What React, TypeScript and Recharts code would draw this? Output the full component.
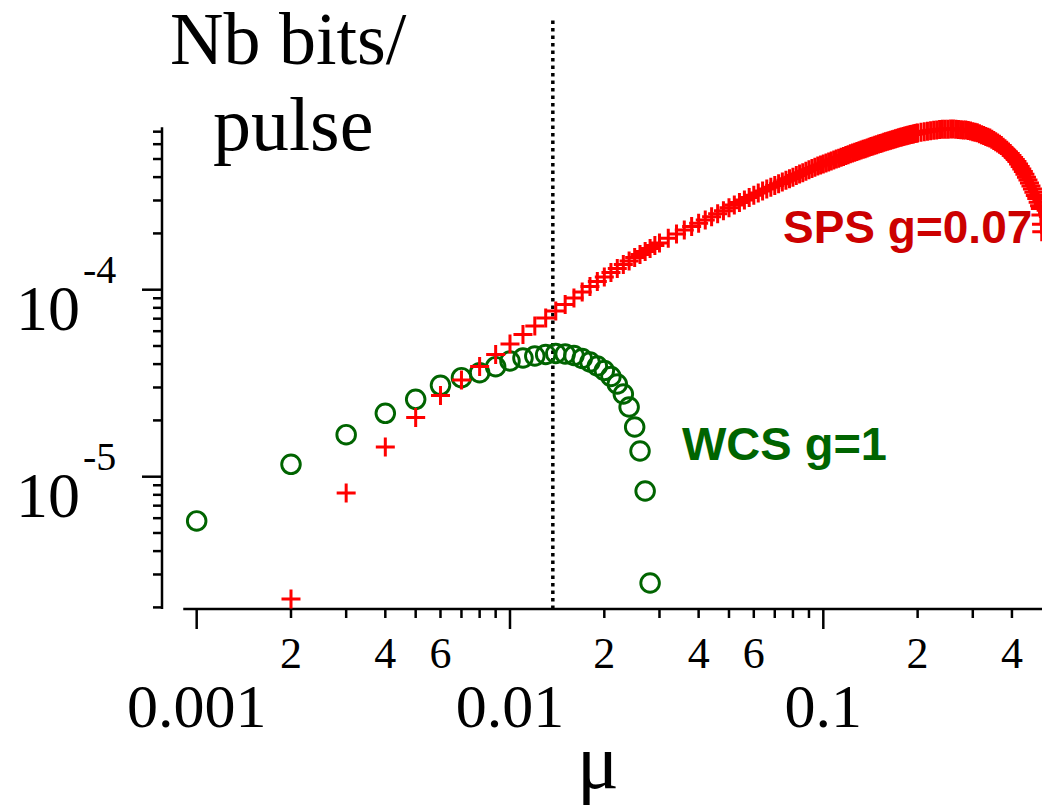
import React from 'react';
import { ScatterChart, Scatter, XAxis, YAxis, ReferenceLine } from 'recharts';

const SERIF = '"Liberation Serif", "DejaVu Serif", serif';
const SANS = '"Liberation Sans", Arial, sans-serif';

// WCS g=1 (green circles)
const wcsMu = [
  0.001, 0.002, 0.003, 0.004, 0.005, 0.006, 0.007, 0.008, 0.009, 0.01,
  0.011, 0.012, 0.013, 0.014, 0.015, 0.016, 0.017, 0.018, 0.019, 0.02,
  0.021, 0.022, 0.023, 0.024, 0.025, 0.026, 0.027, 0.028,
];
const wcsBits = [
  5.8e-6, 1.165e-5, 1.677e-5, 2.183e-5, 2.594e-5, 3.082e-5, 3.384e-5, 3.598e-5, 3.875e-5, 4.157e-5,
  4.312e-5, 4.42e-5, 4.502e-5, 4.558e-5, 4.53e-5, 4.447e-5, 4.286e-5, 4.106e-5, 3.908e-5, 3.697e-5,
  3.434e-5, 3.132e-5, 2.769e-5, 2.359e-5, 1.844e-5, 1.372e-5, 8.385e-6, 2.701e-6,
];

// SPS g=0.07 (red pluses)
const spsMu = [
  0.002, 0.003, 0.004, 0.005, 0.006, 0.007, 0.008, 0.009, 0.01,
  0.011, 0.012, 0.013, 0.014, 0.015, 0.016, 0.017, 0.018, 0.019, 0.02,
  0.021, 0.022, 0.023, 0.024, 0.025, 0.026, 0.027, 0.028, 0.029, 0.03,
  0.032, 0.034, 0.036, 0.038, 0.04, 0.042, 0.044, 0.046, 0.048, 0.05,
  0.052, 0.054, 0.056, 0.058, 0.06, 0.062, 0.064, 0.066, 0.068, 0.07,
  0.072, 0.074, 0.076, 0.078, 0.08, 0.082, 0.084, 0.086, 0.088, 0.09,
  0.092, 0.094, 0.096, 0.098, 0.1,
  0.102, 0.104, 0.106, 0.108, 0.11, 0.112, 0.114, 0.116, 0.118, 0.12,
  0.122, 0.124, 0.126, 0.128, 0.13, 0.132, 0.134, 0.136, 0.138, 0.14,
  0.142, 0.144, 0.146, 0.148, 0.15, 0.152, 0.154, 0.156, 0.158, 0.16,
  0.162, 0.164, 0.166, 0.168, 0.17, 0.172, 0.174, 0.176, 0.178, 0.18,
  0.182, 0.184, 0.186, 0.188, 0.19, 0.192, 0.194, 0.196, 0.198, 0.2,
  0.205, 0.21, 0.215, 0.22, 0.225, 0.23, 0.235, 0.24, 0.245, 0.25,
  0.255, 0.26, 0.265, 0.27, 0.275, 0.28, 0.285, 0.29, 0.295, 0.3,
  0.305, 0.31, 0.315, 0.32, 0.325, 0.33, 0.335, 0.34, 0.345, 0.35,
  0.355, 0.36, 0.365, 0.37, 0.375, 0.38, 0.385, 0.39, 0.395, 0.4,
  0.405, 0.41, 0.415, 0.42, 0.425, 0.43, 0.435, 0.44, 0.445, 0.45,
  0.455, 0.46, 0.465, 0.47, 0.475, 0.48, 0.485, 0.49,
  0.493, 0.495, 0.497, 0.498,
];
const spsBits = [
  2.218e-6, 8.18e-6, 1.441e-5, 2.073e-5, 2.718e-5, 3.289e-5, 3.885e-5, 4.503e-5, 5.124e-5,
  5.76e-5, 6.395e-5, 7.059e-5, 7.693e-5, 8.333e-5, 9.028e-5, 9.721e-5, 1.04e-4, 1.106e-4, 1.169e-4,
  1.236e-4, 1.298e-4, 1.364e-4, 1.424e-4, 1.487e-4, 1.543e-4, 1.601e-4, 1.661e-4, 1.724e-4, 1.778e-4,
  1.882e-4, 1.984e-4, 2.085e-4, 2.178e-4, 2.27e-4, 2.361e-4, 2.455e-4, 2.551e-4, 2.647e-4, 2.742e-4,
  2.836e-4, 2.928e-4, 3.018e-4, 3.108e-4, 3.197e-4, 3.286e-4, 3.372e-4, 3.452e-4, 3.532e-4, 3.611e-4,
  3.69e-4, 3.768e-4, 3.846e-4, 3.924e-4, 3.999e-4, 4.075e-4, 4.151e-4, 4.226e-4, 4.3e-4, 4.375e-4,
  4.448e-4, 4.521e-4, 4.588e-4, 4.645e-4, 4.703e-4,
  4.762e-4, 4.821e-4, 4.88e-4, 4.937e-4, 4.994e-4, 5.051e-4, 5.108e-4, 5.164e-4, 5.22e-4, 5.276e-4,
  5.328e-4, 5.379e-4, 5.43e-4, 5.481e-4, 5.531e-4, 5.58e-4, 5.631e-4, 5.68e-4, 5.729e-4, 5.778e-4,
  5.825e-4, 5.871e-4, 5.916e-4, 5.962e-4, 6.006e-4, 6.052e-4, 6.095e-4, 6.138e-4, 6.179e-4, 6.219e-4,
  6.259e-4, 6.298e-4, 6.338e-4, 6.377e-4, 6.416e-4, 6.455e-4, 6.492e-4, 6.529e-4, 6.561e-4, 6.595e-4,
  6.629e-4, 6.661e-4, 6.693e-4, 6.726e-4, 6.758e-4, 6.785e-4, 6.811e-4, 6.838e-4, 6.863e-4, 6.89e-4,
  6.954e-4, 7.0e-4, 7.046e-4, 7.091e-4, 7.131e-4, 7.155e-4, 7.18e-4, 7.205e-4, 7.211e-4, 7.219e-4,
  7.226e-4, 7.233e-4, 7.213e-4, 7.193e-4, 7.174e-4, 7.156e-4, 7.137e-4, 7.099e-4, 7.048e-4, 6.998e-4,
  6.948e-4, 6.9e-4, 6.826e-4, 6.75e-4, 6.678e-4, 6.606e-4, 6.536e-4, 6.469e-4, 6.369e-4, 6.271e-4,
  6.175e-4, 6.083e-4, 5.994e-4, 5.906e-4, 5.787e-4, 5.674e-4, 5.564e-4, 5.457e-4, 5.346e-4, 5.214e-4,
  5.086e-4, 4.962e-4, 4.845e-4, 4.695e-4, 4.553e-4, 4.417e-4, 4.285e-4, 4.139e-4, 3.999e-4, 3.865e-4,
  3.72e-4, 3.582e-4, 3.451e-4, 3.322e-4, 3.192e-4, 3.07e-4, 2.938e-4, 2.814e-4,
  2.714e-4, 2.512e-4, 2.239e-4, 2.042e-4,
];

const xTicks = [
  0.001, 0.002, 0.003, 0.004, 0.005, 0.006, 0.007, 0.008, 0.009,
  0.01, 0.02, 0.03, 0.04, 0.05, 0.06, 0.07, 0.08, 0.09,
  0.1, 0.2, 0.3, 0.4,
];
const xMajorLabels: [number, string][] = [[0.001, '0.001'], [0.01, '0.01'], [0.1, '0.1']];
const xMinorLabels: [number, string][] = [
  [0.002, '2'], [0.004, '4'], [0.006, '6'],
  [0.02, '2'], [0.04, '4'], [0.06, '6'],
  [0.2, '2'], [0.4, '4'],
];
const yTicks = [
  2e-6, 3e-6, 4e-6, 5e-6, 6e-6, 7e-6, 8e-6, 9e-6,
  1e-5, 2e-5, 3e-5, 4e-5, 5e-5, 6e-5, 7e-5, 8e-5, 9e-5,
  1e-4, 2e-4, 3e-4, 4e-4, 5e-4, 6e-4, 7e-4,
];

const X_DOMAIN: [number, number] = [7.75e-4, 0.4989];
const Y_DOMAIN: [number, number] = [1.961e-6, 2.838e-3];
const X_AXIS_START = 9.06e-4;
const Y_AXIS_TOP = 7.4e-4;
const MARKER_MU = 0.0137;

const wcsData = wcsMu.map((m, i) => ({ x: m, y: wcsBits[i] }));
const spsData = spsMu.map((m, i) => ({ x: m, y: spsBits[i] }));

const isMajor = (v: number) => {
  const l = Math.log10(v);
  return Math.abs(l - Math.round(l)) < 1e-6;
};
const findLabel = (list: [number, string][], v: number) => {
  const f = list.find((e) => Math.abs(e[0] - v) < v * 1e-6);
  return f ? f[1] : null;
};

const XTick = (props: any) => {
  const { x, y, payload } = props;
  const v = payload.value;
  const major = isMajor(v);
  const len = major ? 20 : 9;
  const majorLabel = findLabel(xMajorLabels, v);
  const minorLabel = findLabel(xMinorLabels, v);
  return (
    <g>
      <line x1={x} x2={x} y1={y} y2={y + len} stroke="#000" strokeWidth={2.5} />
      {majorLabel && (
        <text x={x} y={y + 118} textAnchor="middle" fontSize={62} fontFamily={SERIF} fill="#000">
          {majorLabel}
        </text>
      )}
      {minorLabel && (
        <text x={x} y={y + 59} textAnchor="middle" fontSize={44} fontFamily={SERIF} fill="#000">
          {minorLabel}
        </text>
      )}
    </g>
  );
};

const YTick = (props: any) => {
  const { x, y, payload } = props;
  const v = payload.value;
  const major = isMajor(v);
  const len = major ? 20 : 9;
  const exp = Math.round(Math.log10(v));
  return (
    <g>
      <line x1={x - len} x2={x} y1={y} y2={y} stroke="#000" strokeWidth={2.5} />
      {major && (
        <text fontFamily={SERIF} fill="#000">
          <tspan x={x - 146} y={y + 40} fontSize={64}>10</tspan>
          <tspan x={x - 79} y={y - 7} fontSize={40}>{String(exp)}</tspan>
        </text>
      )}
    </g>
  );
};

const PlusShape = (props: any) => {
  const { cx, cy } = props;
  if (cx == null || cy == null) return <g />;
  return (
    <path
      d={`M${cx - 9.5},${cy}H${cx + 9.5}M${cx},${cy - 9.5}V${cy + 9.5}`}
      stroke="#ff0000"
      strokeWidth={3}
      fill="none"
    />
  );
};

const CircleShape = (props: any) => {
  const { cx, cy } = props;
  if (cx == null || cy == null) return <g />;
  return <circle cx={cx} cy={cy} r={9.3} stroke="#006400" strokeWidth={2.9} fill="none" />;
};

export default function App() {
  return (
    <div style={{ position: 'absolute', left: 0, top: 0, width: 1052, height: 811, background: '#fff' }}>
      <ScatterChart width={1052} height={811} margin={{ top: 18, right: 10, bottom: 0, left: 0 }}>
        <XAxis
          dataKey="x"
          type="number"
          scale="log"
          domain={X_DOMAIN}
          allowDataOverflow
          ticks={xTicks}
          interval={0}
          tick={<XTick />}
          axisLine={false}
          tickLine={false}
          tickSize={0}
          tickMargin={0}
          height={202}
        />
        <YAxis
          dataKey="y"
          type="number"
          scale="log"
          domain={Y_DOMAIN}
          allowDataOverflow
          ticks={yTicks}
          interval={0}
          tick={<YTick />}
          axisLine={false}
          tickLine={false}
          tickSize={0}
          tickMargin={0}
          width={162}
        />
        <Scatter data={wcsData} shape={<CircleShape />} isAnimationActive={false} />
        <Scatter data={spsData} shape={<PlusShape />} isAnimationActive={false} />
        <ReferenceLine
          segment={[{ x: X_DOMAIN[0], y: Y_DOMAIN[0] }, { x: X_DOMAIN[0], y: Y_AXIS_TOP }]}
          stroke="#000"
          strokeWidth={2.5}
          ifOverflow="visible"
        />
        <ReferenceLine
          segment={[{ x: X_AXIS_START, y: Y_DOMAIN[0] }, { x: X_DOMAIN[1], y: Y_DOMAIN[0] }]}
          stroke="#000"
          strokeWidth={2.5}
          ifOverflow="visible"
        />
        <ReferenceLine
          x={MARKER_MU}
          stroke="#000"
          strokeWidth={3.5}
          strokeDasharray="3.5 4"
          ifOverflow="visible"
        />
      </ScatterChart>
      <svg
        width={1052}
        height={811}
        style={{ position: 'absolute', left: 0, top: 0, pointerEvents: 'none' }}
      >
        <defs>
          <clipPath id="plotClip">
            <rect x={0} y={0} width={1042} height={811} />
          </clipPath>
        </defs>
        <text x={170} y={64} fontSize={74} fontFamily={SERIF} fill="#000">Nb bits/</text>
        <text x={213} y={150} fontSize={76} fontFamily={SERIF} fill="#000">pulse</text>
        <text x={598} y={788} fontSize={78} fontFamily={SERIF} fill="#000" textAnchor="middle">μ</text>
        <g clipPath="url(#plotClip)">
          <text x={783} y={243} fontSize={46} fontWeight="bold" fontFamily={SANS} fill="#cc0000">SPS g=0.07</text>
        </g>
        <text x={682} y={460} fontSize={47} fontWeight="bold" fontFamily={SANS} fill="#006400">WCS g=1</text>
      </svg>
    </div>
  );
}
